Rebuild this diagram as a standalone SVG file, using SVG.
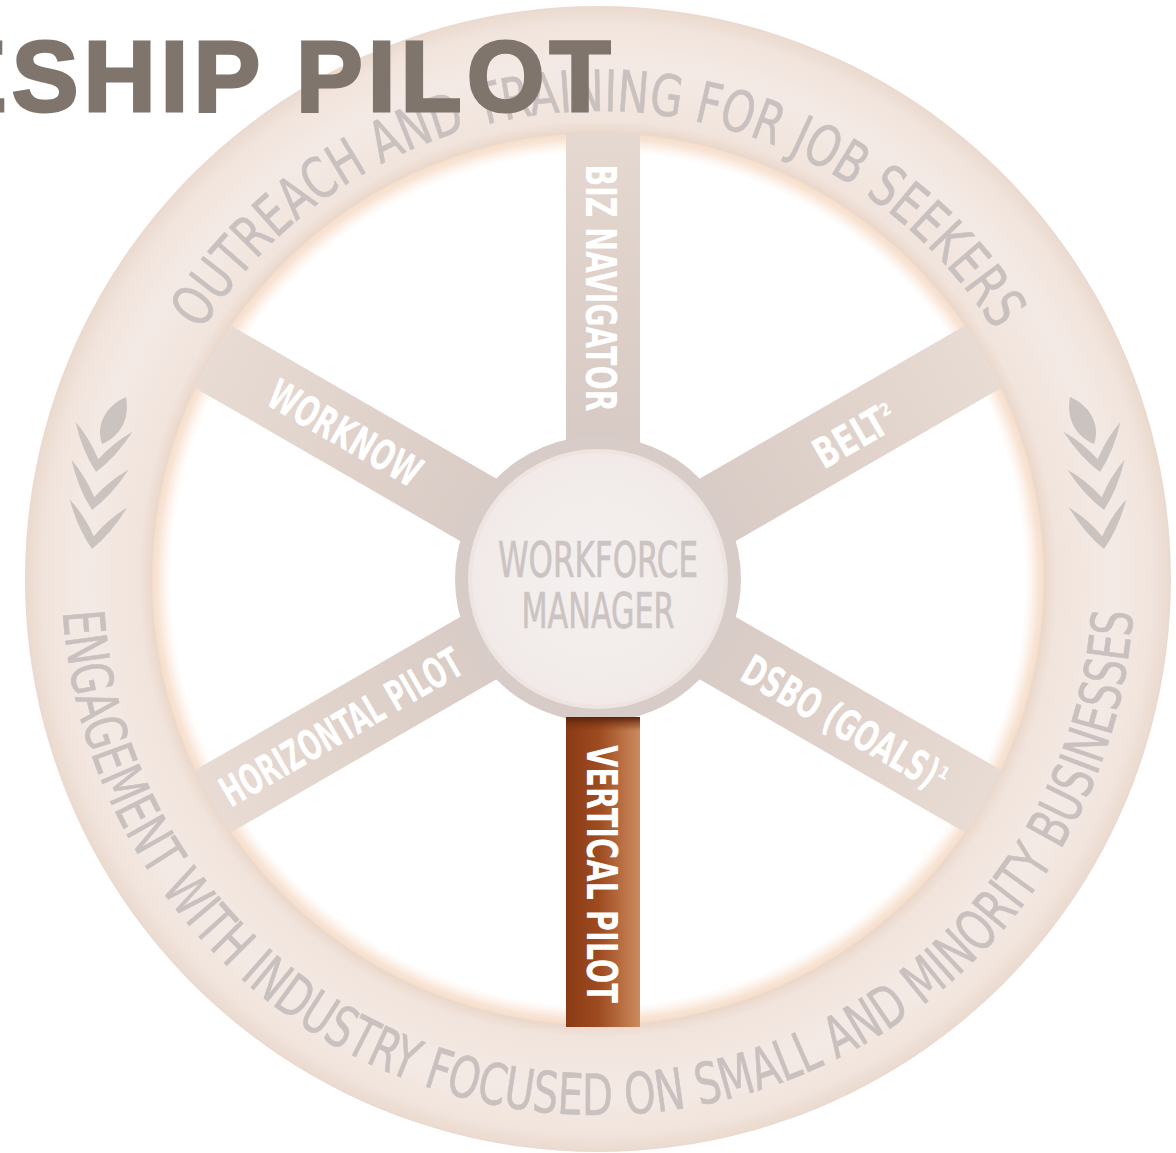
<svg xmlns="http://www.w3.org/2000/svg" width="1176" height="1153" viewBox="0 0 1176 1153">
<style>
.ringtxt{font-family:"Liberation Sans Narrow","DejaVu Sans Condensed","DejaVu Sans",sans-serif;font-size:57px;fill:#C9C1BF;stroke:#C9C1BF;stroke-width:0.6px;}
.spoketxt{font-family:"Liberation Sans Narrow","DejaVu Sans Condensed","DejaVu Sans",sans-serif;font-size:42px;font-weight:bold;fill:#FFFFFF;}
.hubtxt{font-family:"Liberation Sans Narrow","DejaVu Sans Condensed","DejaVu Sans",sans-serif;font-size:49px;fill:#CBC4C2;stroke:#CBC4C2;stroke-width:0.6px;}
.sup{font-size:17px;}
.chev{fill:#CBC3C0;}
</style>
<defs>
<radialGradient id="glow" gradientUnits="userSpaceOnUse" cx="598" cy="579" r="447">
<stop offset="0" stop-color="#FFFFFF" stop-opacity="0"/>
<stop offset="0.955" stop-color="#FBEFE6" stop-opacity="0"/>
<stop offset="0.985" stop-color="#F9E5D6"/>
<stop offset="1" stop-color="#F5DCC8"/>
</radialGradient>
<radialGradient id="ringGrad" gradientUnits="userSpaceOnUse" cx="598" cy="579" r="573">
<stop offset="0.778" stop-color="#EAD7CB"/>
<stop offset="0.80" stop-color="#F1E4DC"/>
<stop offset="0.90" stop-color="#F4EAE5"/>
<stop offset="0.97" stop-color="#F1E4DC"/>
<stop offset="1" stop-color="#EAD9CE"/>
</radialGradient>
<linearGradient id="spokeGrad" x1="0" y1="0" x2="1" y2="0">
<stop offset="0" stop-color="#D7C9C3"/>
<stop offset="1" stop-color="#E9DCD4"/>
</linearGradient>
<linearGradient id="spokeGradV" x1="0" y1="1" x2="0" y2="0">
<stop offset="0" stop-color="#D7C9C3"/>
<stop offset="1" stop-color="#E6D9D1"/>
</linearGradient>
<linearGradient id="brownGrad" x1="0" y1="0" x2="1" y2="0">
<stop offset="0" stop-color="#8A3A14"/>
<stop offset="0.45" stop-color="#9E4B20"/>
<stop offset="0.85" stop-color="#C07A4E"/>
<stop offset="1" stop-color="#CC8A5E"/>
</linearGradient>
<linearGradient id="brownCap" x1="0" y1="0" x2="0" y2="1">
<stop offset="0" stop-color="#5A220A"/>
<stop offset="1" stop-color="#7A3512" stop-opacity="0"/>
</linearGradient>
<radialGradient id="hubGrad" cx="0.5" cy="0.5" r="0.5">
<stop offset="0" stop-color="#F5F1F0"/>
<stop offset="1" stop-color="#F1EAE8"/>
</radialGradient>
<path id="topArc" d="M192.7,345 A468,468 0 0 1 1003.3,345"/>
<path id="botArc" d="M62,579 A536,536 0 0 0 1134,579"/>
<path id="vee" d="M0,0 Q-17,-18 -29,-46 Q-12,-32 0,-13 Q12,-32 29,-46 Q17,-18 0,0 Z"/>
<g id="wheat">
<path d="M102,444 C95,424 107,405 126,397 C130,418 121,436 102,444 Z"/>
<use href="#vee" transform="translate(96,472) rotate(10)"/>
<use href="#vee" transform="translate(92,510) rotate(10)"/>
<use href="#vee" transform="translate(92,549) rotate(8)"/>
</g>
</defs>

<circle id="inner-glow" cx="598" cy="579" r="447" fill="url(#glow)"/>

<g id="spokes">
<g id="spoke-biz-navigator">
<rect x="566" y="120" width="74" height="330" fill="url(#spokeGradV)"/>
<text class="spoketxt" transform="translate(601,288) rotate(90)" x="0" y="15" text-anchor="middle" textLength="247" lengthAdjust="spacingAndGlyphs">BIZ NAVIGATOR</text>
</g>
<g id="spoke-belt">
<rect x="100" y="-36" width="360" height="72" fill="url(#spokeGrad)" transform="translate(598,579) rotate(-30)"/>
<text class="spoketxt" transform="translate(851,437) rotate(-30)" x="-40" y="15"><tspan textLength="78" lengthAdjust="spacingAndGlyphs">BELT</tspan><tspan class="sup" dy="-16">2</tspan></text>
</g>
<g id="spoke-dsbo">
<rect x="100" y="-36" width="360" height="72" fill="url(#spokeGrad)" transform="translate(598,579) rotate(30)"/>
<text class="spoketxt" transform="translate(846,724) rotate(30)" x="-116" y="15"><tspan textLength="220" lengthAdjust="spacingAndGlyphs">DSBO (GOALS)</tspan><tspan class="sup" dy="-16">1</tspan></text>
</g>
<g id="spoke-horizontal-pilot">
<rect x="100" y="-36" width="360" height="72" fill="url(#spokeGrad)" transform="translate(598,579) rotate(150)"/>
<text class="spoketxt" transform="translate(341,727) rotate(-30)" x="0" y="15" text-anchor="middle" textLength="272" lengthAdjust="spacingAndGlyphs">HORIZONTAL PILOT</text>
</g>
<g id="spoke-worknow">
<rect x="100" y="-36" width="360" height="72" fill="url(#spokeGrad)" transform="translate(598,579) rotate(210)"/>
<text class="spoketxt" transform="translate(345,433) rotate(30)" x="0" y="15" text-anchor="middle" textLength="170" lengthAdjust="spacingAndGlyphs">WORKNOW</text>
</g>
</g>

<g id="ring">
<path d="M598,6 A573,573 0 1 1 597.9,6 Z M598,133 A446,446 0 1 0 598.1,133 Z" fill="url(#ringGrad)" fill-rule="evenodd"/>
<text class="ringtxt"><textPath href="#topArc" startOffset="50%" text-anchor="middle" textLength="947" lengthAdjust="spacingAndGlyphs">OUTREACH AND TRAINING FOR JOB SEEKERS</textPath></text>
<text class="ringtxt"><textPath href="#botArc" startOffset="50%" text-anchor="middle" textLength="1618" lengthAdjust="spacingAndGlyphs">ENGAGEMENT WITH INDUSTRY FOCUSED ON SMALL AND MINORITY BUSINESSES</textPath></text>
<g id="chevrons" class="chev">
<use href="#wheat"/>
<use href="#wheat" transform="translate(1196,0) scale(-1,1)"/>
</g>
</g>

<g id="hub">
<circle cx="598" cy="579" r="143" fill="#D8CCC8"/>
<circle cx="598" cy="579" r="130" fill="#EEE4E0"/>
<circle cx="598" cy="579" r="126" fill="url(#hubGrad)"/>
<text class="hubtxt" x="598" y="577" text-anchor="middle" textLength="200" lengthAdjust="spacingAndGlyphs">WORKFORCE</text>
<text class="hubtxt" x="598" y="628" text-anchor="middle" textLength="153" lengthAdjust="spacingAndGlyphs">MANAGER</text>
</g>

<g id="spoke-vertical-pilot">
<rect x="566" y="717" width="74" height="310" fill="url(#brownGrad)"/>
<rect x="566" y="717" width="74" height="14" fill="url(#brownCap)"/>
<text class="spoketxt" transform="translate(602,874) rotate(90)" x="0" y="15" text-anchor="middle" textLength="258" lengthAdjust="spacingAndGlyphs">VERTICAL PILOT</text>
</g>

<g id="title">
<text x="-60" y="111" font-family="'Liberation Sans',Arial,sans-serif" font-weight="bold" font-size="100" letter-spacing="5" fill="#7F756C" stroke="#7F756C" stroke-width="3" stroke-linejoin="miter">ESHIP PILOT</text>
</g>
</svg>
